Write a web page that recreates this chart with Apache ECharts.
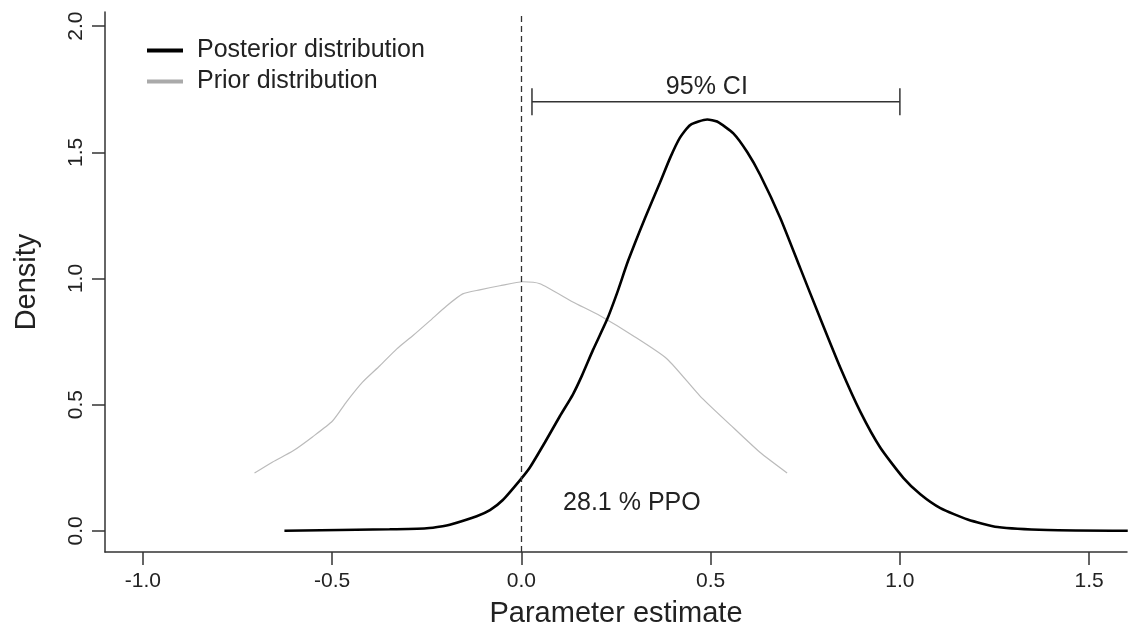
<!DOCTYPE html>
<html>
<head>
<meta charset="utf-8">
<script src="https://cdn.jsdelivr.net/npm/echarts@6/dist/echarts.min.js"></script>
<style>
html,body{margin:0;padding:0;background:#fff;}
#chart{width:1128px;height:633px;}
</style>
</head>
<body>
<div id="chart"></div>
<script>
// ---- data ----
const posteriorX = [-0.626,-0.348,-0.250,-0.208,-0.189,-0.118,-0.083,-0.049,-0.004,0.022,0.062,0.102,0.136,0.160,0.189,0.226,0.253,0.282,0.327,0.366,0.393,0.419,0.446,0.491,0.517,0.560,0.597,0.631,0.684,0.737,0.790,0.843,0.896,0.948,1.009,1.054,1.107,1.179,1.258,1.390,1.602];
const posteriorDensity = [0,0.006,0.010,0.018,0.024,0.058,0.082,0.122,0.200,0.250,0.350,0.455,0.540,0.615,0.716,0.836,0.943,1.070,1.241,1.379,1.478,1.558,1.608,1.630,1.622,1.575,1.500,1.410,1.240,1.040,0.840,0.645,0.470,0.330,0.210,0.145,0.090,0.045,0.015,0.003,0];
const priorX = [-0.705,-0.657,-0.604,-0.552,-0.499,-0.462,-0.419,-0.374,-0.329,-0.287,-0.242,-0.197,-0.155,-0.110,-0.057,0.004,0.049,0.136,0.208,0.295,0.385,0.472,0.552,0.631,0.702];
const priorDensity = [0.229,0.273,0.316,0.372,0.435,0.511,0.590,0.654,0.721,0.773,0.832,0.892,0.939,0.955,0.971,0.987,0.979,0.907,0.852,0.773,0.681,0.534,0.420,0.310,0.229];
const xTicks = [-1.0,-0.5,0.0,0.5,1.0,1.5];
const yTicks = [0.0,0.5,1.0,1.5,2.0];
const ciBounds = [0.028, 1.0];
const ciLevel = 1.70;
const ciLabel = {x: 0.49, y: 1.757, text: '95% CI'};
const ppoLabel = {x: 0.292, y: 0.11, text: '28.1 % PPO'};
const nullValue = 0;
const seriesNames = ['Posterior distribution', 'Prior distribution'];

// ---- chart ----
const FONT = '"Liberation Sans", Arial, sans-serif';
const TXT = '#222';
const AX = '#333';
const zip = (xs, ys) => xs.map((x, i) => [x, ys[i]]);

const chart = echarts.init(document.getElementById('chart'), null, {renderer: 'canvas'});
chart.setOption({
  animation: false,
  backgroundColor: '#fff',
  textStyle: {fontFamily: FONT},
  grid: {left: 105, right: 1, top: 12, bottom: 81, containLabel: false},
  legend: {
    orient: 'vertical', left: 142, top: 33, itemGap: 6,
    itemWidth: 36, itemHeight: 4, icon: 'rect',
    textStyle: {fontSize: 25, color: TXT, fontFamily: FONT, padding: [0, 0, 0, 9]},
    data: [
      {name: seriesNames[0], itemStyle: {color: '#000'}},
      {name: seriesNames[1], itemStyle: {color: '#aaa'}}
    ]
  },
  xAxis: {
    type: 'value', min: -1.1, max: 1.6,
    name: 'Parameter estimate', nameLocation: 'middle', nameGap: 47,
    nameTextStyle: {fontSize: 29, color: TXT, fontFamily: FONT},
    axisLine: {show: true, onZero: false, lineStyle: {color: AX, width: 1.5}},
    axisTick: {show: true, length: 13, customValues: xTicks, lineStyle: {color: AX, width: 1.5}},
    axisLabel: {show: true, customValues: xTicks, margin: 19, fontSize: 21, color: TXT, fontFamily: FONT,
      formatter: v => v.toFixed(1)},
    splitLine: {show: false}
  },
  yAxis: {
    type: 'value', min: -0.084, max: 2.056,
    name: 'Density', nameLocation: 'middle', nameGap: 64, nameRotate: 90,
    nameTextStyle: {fontSize: 29, color: TXT, fontFamily: FONT},
    axisLine: {show: true, onZero: false, lineStyle: {color: AX, width: 1.5}},
    axisTick: {show: true, length: 13, customValues: yTicks, lineStyle: {color: AX, width: 1.5}},
    axisLabel: {show: true, customValues: yTicks, margin: 18, rotate: 90, fontSize: 21, color: TXT, fontFamily: FONT,
      formatter: v => v.toFixed(1)},
    splitLine: {show: false}
  },
  series: [
    {
      name: seriesNames[1], type: 'line', data: zip(priorX, priorDensity),
      showSymbol: false, smooth: 0.2, lineStyle: {color: '#bbb', width: 1.2}, itemStyle: {color: '#aaa'}, z: 2
    },
    {
      name: seriesNames[0], type: 'line', data: zip(posteriorX, posteriorDensity),
      showSymbol: false, smooth: 0.2, lineStyle: {color: '#000', width: 2.6}, itemStyle: {color: '#000'}, z: 3,
      markLine: {
        silent: true, symbol: 'none', label: {show: false},
        lineStyle: {color: AX, width: 1.3, type: [6, 4]},
        data: [{xAxis: nullValue}]
      }
    },
    {
      name: 'ci', type: 'custom', z: 4,
      data: [[ciBounds[0], ciBounds[1], ciLevel]],
      renderItem: (params, api) => {
        const a = api.coord([api.value(0), api.value(2)]);
        const b = api.coord([api.value(1), api.value(2)]);
        const cap = 13.5;
        const st = {stroke: AX, lineWidth: 1.5};
        return {type: 'group', children: [
          {type: 'line', shape: {x1: a[0], y1: a[1], x2: b[0], y2: b[1]}, style: st},
          {type: 'line', shape: {x1: a[0], y1: a[1] - cap, x2: a[0], y2: a[1] + cap}, style: st},
          {type: 'line', shape: {x1: b[0], y1: b[1] - cap, x2: b[0], y2: b[1] + cap}, style: st}
        ]};
      }
    },
    {
      name: 'labels', type: 'custom', z: 5,
      data: [[ciLabel.x, ciLabel.y, ciLabel.text], [ppoLabel.x, ppoLabel.y, ppoLabel.text]],
      renderItem: (params, api) => {
        const p = api.coord([api.value(0), api.value(1)]);
        const item = params.dataIndex === 0 ? ciLabel : ppoLabel;
        return {type: 'text', x: p[0], y: p[1], style: {
          text: item.text, fill: TXT, font: '25px ' + FONT, align: 'center', verticalAlign: 'middle'}};
      }
    }
  ]
});
</script>
</body>
</html>
